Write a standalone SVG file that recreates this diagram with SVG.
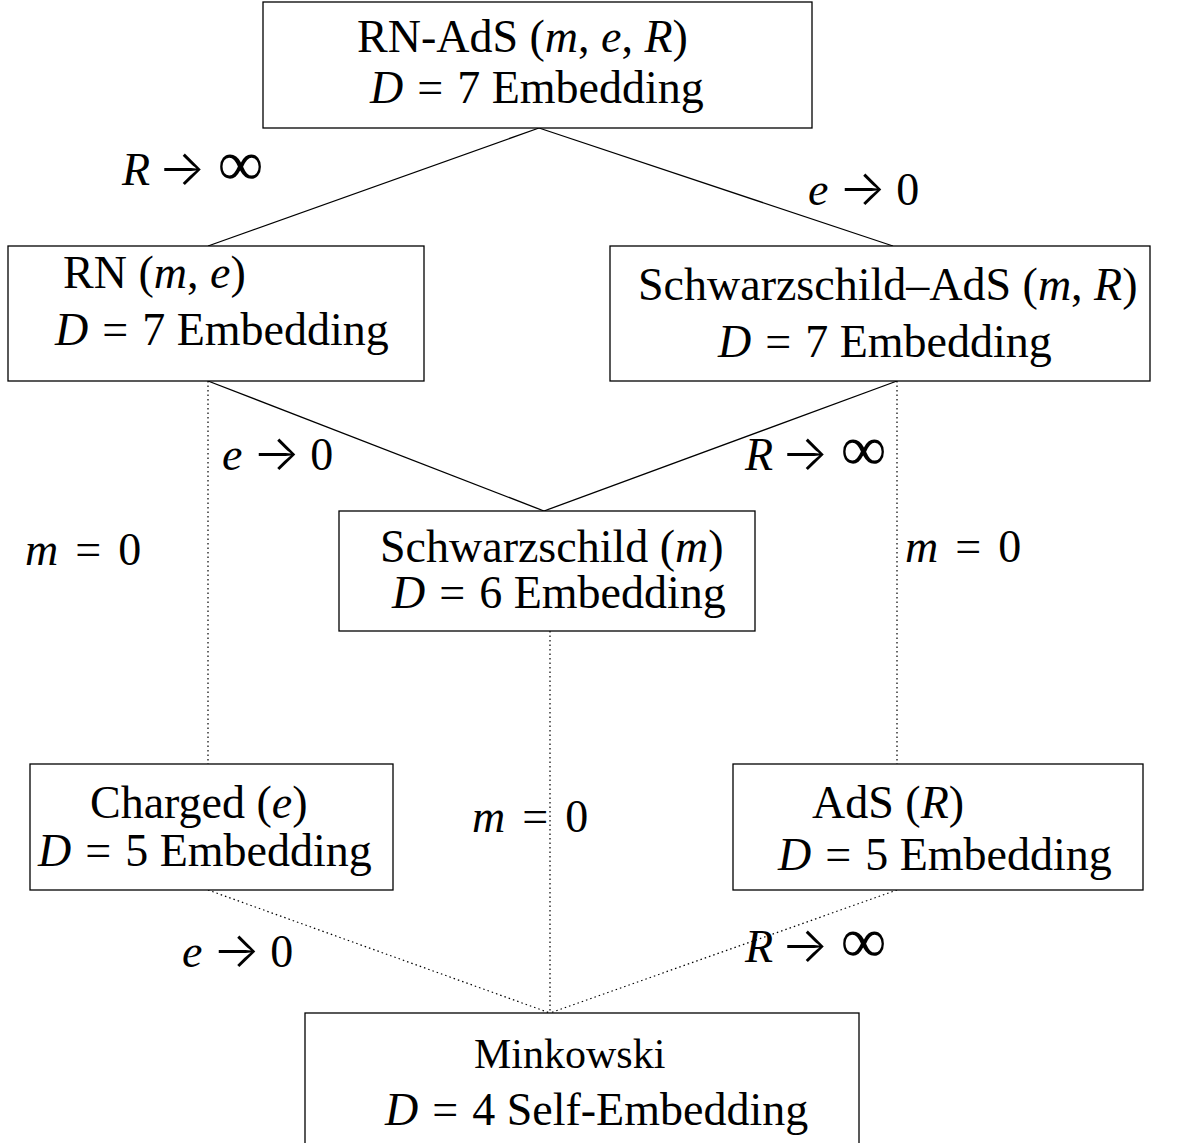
<svg xmlns="http://www.w3.org/2000/svg" width="1186" height="1143" viewBox="0 0 1186 1143">
<style>
.box{fill:#fff;stroke:#000;stroke-width:1.3}
.t{font-family:"Liberation Serif","DejaVu Serif",serif;font-size:46px;fill:#000}
.i{font-style:italic}
.ar{font-family:Inter,"DejaVu Sans",sans-serif;font-size:50px;font-weight:300}
.inf{font-family:"Liberation Serif",serif;font-size:64px}
.mk{font-size:42px}
.solid{stroke:#000;stroke-width:1.3;fill:none}
.dot{stroke:#000;stroke-width:1.2;fill:none;stroke-dasharray:1.5 3}
</style>
<rect width="1186" height="1143" fill="#fff"/>
<g id="connectors">
<line class="solid" x1="539" y1="128" x2="208" y2="246"/>
<line class="solid" x1="539" y1="128" x2="893" y2="246"/>
<line class="solid" x1="208" y1="381" x2="544" y2="511"/>
<line class="solid" x1="897" y1="381" x2="544" y2="511"/>
<line class="dot" x1="208" y1="381" x2="208" y2="764"/>
<line class="dot" x1="897" y1="381" x2="897" y2="764"/>
<line class="dot" x1="550" y1="631" x2="550" y2="1013"/>
<line class="dot" x1="208" y1="890" x2="550" y2="1013"/>
<line class="dot" x1="897" y1="890" x2="550" y2="1013"/>
</g>
<g id="labels">
<text class="t" x="122" y="185"><tspan class="i">R</tspan><tspan class="ar" dx="8">→</tspan><tspan class="inf" dx="12">∞</tspan></text>
<text class="t" x="808" y="205"><tspan class="i">e</tspan><tspan class="ar" dx="10">→</tspan><tspan dx="10">0</tspan></text>
<text class="t" x="222" y="470"><tspan class="i">e</tspan><tspan class="ar" dx="10">→</tspan><tspan dx="10">0</tspan></text>
<text class="t" x="745" y="470"><tspan class="i">R</tspan><tspan class="ar" dx="8">→</tspan><tspan class="inf" dx="12">∞</tspan></text>
<text class="t" x="25" y="565"><tspan class="i">m</tspan><tspan dx="17">=</tspan><tspan dx="17">0</tspan></text>
<text class="t" x="905" y="562"><tspan class="i">m</tspan><tspan dx="17">=</tspan><tspan dx="17">0</tspan></text>
<text class="t" x="472" y="832"><tspan class="i">m</tspan><tspan dx="17">=</tspan><tspan dx="17">0</tspan></text>
<text class="t" x="182" y="967"><tspan class="i">e</tspan><tspan class="ar" dx="10">→</tspan><tspan dx="10">0</tspan></text>
<text class="t" x="745" y="962"><tspan class="i">R</tspan><tspan class="ar" dx="8">→</tspan><tspan class="inf" dx="12">∞</tspan></text>
</g>
<g id="rn-ads">
<rect class="box" x="263" y="2" width="549" height="126"/>
<text class="t" x="357" y="52">RN-AdS (<tspan class="i">m</tspan>, <tspan class="i">e</tspan>, <tspan class="i">R</tspan>)</text>
<text class="t" x="370" y="103"><tspan class="i">D</tspan><tspan dx="14">=</tspan><tspan dx="14">7</tspan> Embedding</text>
</g>
<g id="rn">
<rect class="box" x="8" y="246" width="416" height="135"/>
<text class="t" x="63" y="288">RN (<tspan class="i">m</tspan>, <tspan class="i">e</tspan>)</text>
<text class="t" x="55" y="345"><tspan class="i">D</tspan><tspan dx="14">=</tspan><tspan dx="14">7</tspan> Embedding</text>
</g>
<g id="schwarzschild-ads">
<rect class="box" x="610" y="246" width="540" height="135"/>
<text class="t" x="638" y="300">Schwarzschild–AdS (<tspan class="i">m</tspan>, <tspan class="i">R</tspan>)</text>
<text class="t" x="718" y="357"><tspan class="i">D</tspan><tspan dx="14">=</tspan><tspan dx="14">7</tspan> Embedding</text>
</g>
<g id="schwarzschild">
<rect class="box" x="339" y="511" width="416" height="120"/>
<text class="t" x="380" y="562">Schwarzschild (<tspan class="i">m</tspan>)</text>
<text class="t" x="392" y="608"><tspan class="i">D</tspan><tspan dx="14">=</tspan><tspan dx="14">6</tspan> Embedding</text>
</g>
<g id="charged">
<rect class="box" x="30" y="764" width="363" height="126"/>
<text class="t" x="90" y="818">Charged (<tspan class="i">e</tspan>)</text>
<text class="t" x="38" y="866"><tspan class="i">D</tspan><tspan dx="14">=</tspan><tspan dx="14">5</tspan> Embedding</text>
</g>
<g id="ads">
<rect class="box" x="733" y="764" width="410" height="126"/>
<text class="t" x="812" y="818">AdS (<tspan class="i">R</tspan>)</text>
<text class="t" x="778" y="870"><tspan class="i">D</tspan><tspan dx="14">=</tspan><tspan dx="14">5</tspan> Embedding</text>
</g>
<g id="minkowski">
<rect class="box" x="305" y="1013" width="554" height="140"/>
<text class="t mk" x="474" y="1068">Minkowski</text>
<text class="t" x="385" y="1125"><tspan class="i">D</tspan><tspan dx="14">=</tspan><tspan dx="14">4</tspan> Self-Embedding</text>
</g>
</svg>
